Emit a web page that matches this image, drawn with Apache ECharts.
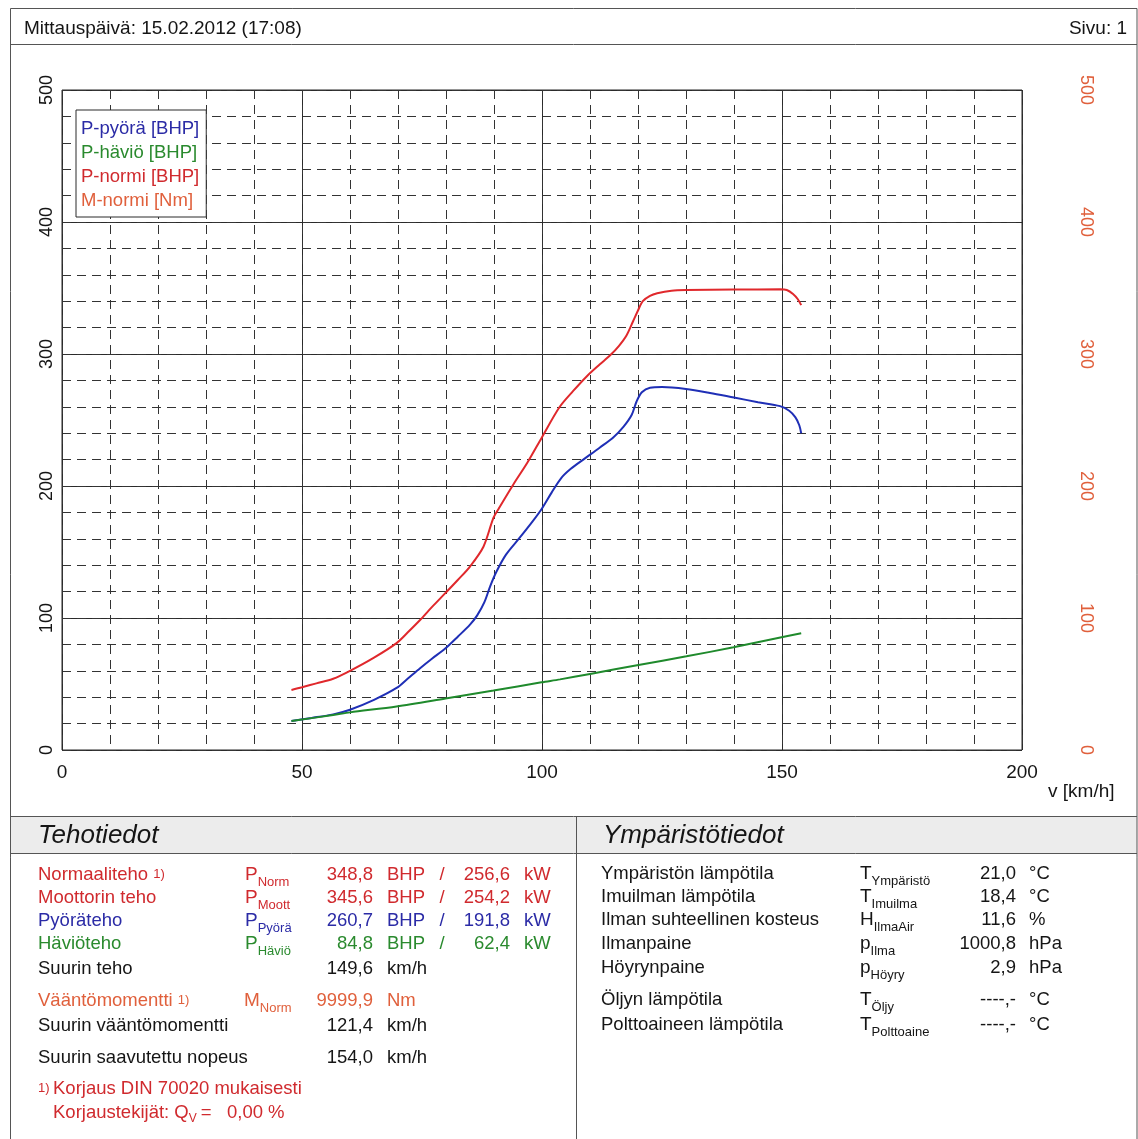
<!DOCTYPE html>
<html><head><meta charset="utf-8">
<script src="https://cdn.jsdelivr.net/npm/echarts@6/dist/echarts.min.js"></script>
<style>html,body{margin:0;padding:0;background:#fff}#c{width:1138px;height:1139px}</style>
</head><body><div id="c"></div>
<script>
// ---------- chart data ----------
const seriesNames = ['P-pyörä [BHP]', 'P-häviö [BHP]', 'P-normi [BHP]', 'M-normi [Nm]'];
const xTicks = [0, 50, 100, 150, 200];
const yTicks = [0, 100, 200, 300, 400, 500];

const speedWheel = [47.8,52,56.5,60,65,69.7,72,74.6,77,79.9,82.5,85,86.5,88,89.2,90.5,92.5,95.4,98,100,102,104,106,108.6,112,114.9,117,118.7,119.7,120.8,122.5,125,130,135,140,145,149.6,151.5,152.8,153.6,154];
const powerWheel = [22,24.3,27,30.5,38,47,54,62,69,77,86,95,102,112,124,135,148,161,173,183,195,206,213,220,229,237,245,254,264,271,274.5,275,273.5,270.5,267,263.5,260.5,257,252,246,240];

const speedLoss = [47.8,56.5,60,69.7,79.9,89.9,99.9,103.75,110.3,120.1,130.1,139.9,149.9,154];
const powerLoss = [22,26.5,28.5,33,39,45,51.3,53.5,57.8,64.4,71,77.8,85.4,88.4];

const speedNorm = [47.8,50,53,56.5,60,65,69.7,72,74.6,77,79.9,82.5,85,87.8,89.9,91,94,97,100,103.7,106.5,109.3,112,114.2,116,117.6,119,120,121,122.5,124,127,130,140,149.6,151,152.3,153.3,154];
const powerNorm = [45.5,47.5,50.5,54,60,70,81,89,98.5,108,119,129,139,154,176,183,201,218,237,260,272,283,292,299,306,314,325,333,340,344,346,348,348.5,348.8,349,348.5,345.5,341.5,337];

const speedTorque = [];   // M-normi invalid (9999,9) -> no curve
const torqueNorm = [];

// ---------- report texts ----------
const headerLeft = 'Mittauspäivä: 15.02.2012 (17:08)';
const headerRight = 'Sivu: 1';
const axisName = 'v [km/h]';
const sectionTitles = ['Tehotiedot', 'Ympäristötiedot'];

const powerLabels = ['Normaaliteho', 'Moottorin teho', 'Pyöräteho', 'Häviöteho', 'Suurin teho'];
const powerNotes = ['1)', '', '', '', ''];
const powerSymbols = [['P','Norm'], ['P','Moott'], ['P','Pyörä'], ['P','Häviö'], null];
const powerBhp = ['348,8', '345,6', '260,7', '84,8', '149,6'];
const powerUnit1 = ['BHP', 'BHP', 'BHP', 'BHP', 'km/h'];
const powerKw = ['256,6', '254,2', '191,8', '62,4', ''];

const torqueLabels = ['Vääntömomentti', 'Suurin vääntömomentti', 'Suurin saavutettu nopeus'];
const torqueNotes = ['1)', '', ''];
const torqueSymbols = [['M','Norm'], null, null];
const torqueValues = ['9999,9', '121,4', '154,0'];
const torqueUnits = ['Nm', 'km/h', 'km/h'];

const footnoteLines = ['Korjaus DIN 70020 mukaisesti', 'Korjaustekijät: '];
const correctionSymbol = ['Q', 'V'];
const correctionValue = '=   0,00 %';

const envLabels = ['Ympäristön lämpötila', 'Imuilman lämpötila', 'Ilman suhteellinen kosteus', 'Ilmanpaine', 'Höyrynpaine', 'Öljyn lämpötila', 'Polttoaineen lämpötila'];
const envSymbols = [['T','Ympäristö'], ['T','Imuilma'], ['H','IlmaAir'], ['p','Ilma'], ['p','Höyry'], ['T','Öljy'], ['T','Polttoaine']];
const envValues = ['21,0', '18,4', '11,6', '1000,8', '2,9', '----,-', '----,-'];
const envUnits = ['°C', '°C', '%', 'hPa', 'hPa', '°C', '°C'];

// ---------- styling / layout ----------
const FONT = '"Liberation Sans", Arial, sans-serif';
const C = {
  black: '#151515', red: '#d02a2e', blue: '#2b2ba6', green: '#2a8a2e', orange: '#e0603c',
  lineBlue: '#1f2fb6', lineGreen: '#1f8a2c', lineRed: '#e0282c', grid: '#2a2a2a', frame: '#555'
};
const powerColors = [C.red, C.red, C.blue, C.green, C.black];
const torqueColors = [C.orange, C.black, C.black];

const mctx = document.createElement('canvas').getContext('2d');
function tw(t, size) { mctx.font = size + 'px ' + FONT; return mctx.measureText(t).width; }
function txt(x, y, s, color, size, align, italic) {
  return { type: 'text', x: x, y: y, silent: true, z: 10,
    style: { text: s, fill: color, fontSize: size, fontFamily: FONT, fontStyle: italic ? 'italic' : 'normal',
      textAlign: align || 'left', textVerticalAlign: 'middle' } };
}
function symbol(x, y, pair, color, out) {
  out.push(txt(x, y, pair[0], color, 19));
  out.push(txt(x + tw(pair[0], 19), y + 7, pair[1], color, 13));
}
function labelWithNote(x, y, label, note, color, out) {
  out.push(txt(x, y, label, color, 18.5));
  if (note) out.push(txt(x + tw(label + ' ', 18.5), y - 1, note, color, 13));
}

const G = [];
// frame
G.push({ type: 'rect', silent: true, z: 1, shape: { x: 10, y: 817, width: 1127, height: 36 }, style: { fill: '#ececec', stroke: null } });
G.push({ type: 'rect', silent: true, z: 2, shape: { x: 10.5, y: 8.5, width: 1126.5, height: 1140 }, style: { fill: null, stroke: C.frame, lineWidth: 1 } });
[[10, 44.5, 1137, 44.5], [10, 816.5, 1137, 816.5], [10, 853.5, 1137, 853.5], [576.5, 816, 576.5, 1139]].forEach(function (l) {
  G.push({ type: 'line', silent: true, z: 2, shape: { x1: l[0], y1: l[1], x2: l[2], y2: l[3] }, style: { stroke: C.frame, lineWidth: 1 } });
});
G.push(txt(24, 29, headerLeft, C.black, 19));
G.push(txt(1127, 29, headerRight, C.black, 19, 'right'));
G.push(txt(1048, 792, axisName, C.black, 19));
G.push(txt(38, 836, sectionTitles[0], C.black, 26, 'left', true));
G.push(txt(603, 836, sectionTitles[1], C.black, 26, 'left', true));

// power table
const powerY = [875, 898, 921, 944, 969];
powerLabels.forEach(function (lab, i) {
  const y = powerY[i], col = powerColors[i];
  labelWithNote(38, y, lab, powerNotes[i], col, G);
  if (powerSymbols[i]) symbol(245, y, powerSymbols[i], col, G);
  G.push(txt(373, y, powerBhp[i], col, 18.5, 'right'));
  G.push(txt(387, y, powerUnit1[i], col, 18.5));
  if (powerKw[i]) {
    G.push(txt(442, y, '/', col, 18.5, 'center'));
    G.push(txt(510, y, powerKw[i], col, 18.5, 'right'));
    G.push(txt(524, y, 'kW', col, 18.5));
  }
});
const torqueY = [1001, 1026, 1058];
torqueLabels.forEach(function (lab, i) {
  const y = torqueY[i], col = torqueColors[i];
  labelWithNote(38, y, lab, torqueNotes[i], col, G);
  if (torqueSymbols[i]) symbol(244, y, torqueSymbols[i], col, G);
  G.push(txt(373, y, torqueValues[i], col, 18.5, 'right'));
  G.push(txt(387, y, torqueUnits[i], col, 18.5));
});
G.push(txt(38, 1088, '1)', C.red, 13));
G.push(txt(53, 1089, footnoteLines[0], C.red, 18.5));
G.push(txt(53, 1113, footnoteLines[1], C.red, 18.5));
(function () {
  const x0 = 53 + tw(footnoteLines[1], 18.5);
  G.push(txt(x0, 1113, correctionSymbol[0], C.red, 18.5));
  const x1 = x0 + tw(correctionSymbol[0], 18.5);
  G.push(txt(x1, 1119, correctionSymbol[1], C.red, 12));
  G.push(txt(x1 + 12, 1113, correctionValue, C.red, 18.5));
})();

// environment table
const envY = [874, 897, 920, 944, 968, 1000, 1025];
envLabels.forEach(function (lab, i) {
  const y = envY[i];
  G.push(txt(601, y, lab, C.black, 18.5));
  symbol(860, y, envSymbols[i], C.black, G);
  G.push(txt(1016, y, envValues[i], C.black, 18.5, 'right'));
  G.push(txt(1029, y, envUnits[i], C.black, 18.5));
});

function pairs(xs, ys) { return xs.map(function (x, i) { return [x, ys[i]]; }); }

const chart = echarts.init(document.getElementById('c'), null, { renderer: 'canvas' });
const axisCommon = { type: 'value', axisTick: { show: false }, axisLine: { show: false } };
chart.setOption({
  animation: false,
  backgroundColor: '#fff',
  textStyle: { fontFamily: FONT },
  grid: { left: 62, top: 90, width: 960, height: 660, show: true, borderColor: C.grid, borderWidth: 1, backgroundColor: 'transparent', containLabel: false },
  legend: {
    orient: 'vertical', left: 76, top: 110, padding: [9, 7, 7, 0], itemGap: 5, itemWidth: 0, itemHeight: 19,
    icon: 'none', selectedMode: false, backgroundColor: '#fff', borderColor: C.grid, borderWidth: 1, z: 20,
    textStyle: { fontSize: 18.5, fontFamily: FONT },
    data: [
      { name: seriesNames[0], textStyle: { color: C.blue } },
      { name: seriesNames[1], textStyle: { color: C.green } },
      { name: seriesNames[2], textStyle: { color: C.red } },
      { name: seriesNames[3], textStyle: { color: C.orange } }
    ]
  },
  xAxis: [
    Object.assign({}, axisCommon, { min: xTicks[0], max: xTicks[xTicks.length - 1], interval: 50, position: 'bottom',
      axisLabel: { fontSize: 19, color: C.black, margin: 13, fontFamily: FONT },
      splitLine: { show: true, lineStyle: { color: C.grid, width: 1, type: 'solid' } } }),
    Object.assign({}, axisCommon, { min: 0, max: 200, interval: 10, position: 'top',
      axisLabel: { show: false },
      splitLine: { show: true, lineStyle: { color: '#333', width: 1, type: [9, 6] } } })
  ],
  yAxis: [
    Object.assign({}, axisCommon, { min: yTicks[0], max: yTicks[yTicks.length - 1], interval: 100, position: 'left',
      axisLabel: { fontSize: 18, color: C.black, rotate: 90, margin: 6, fontFamily: FONT },
      splitLine: { show: true, lineStyle: { color: C.grid, width: 1, type: 'solid' } } }),
    Object.assign({}, axisCommon, { min: 0, max: 500, interval: 100, position: 'right',
      axisLabel: { fontSize: 18, color: C.orange, rotate: -90, margin: 55, fontFamily: FONT },
      splitLine: { show: false } }),
    Object.assign({}, axisCommon, { min: 0, max: 500, interval: 20, position: 'left',
      axisLabel: { show: false },
      splitLine: { show: true, lineStyle: { color: '#333', width: 1, type: [9, 6] } } })
  ],
  series: [
    { name: seriesNames[0], type: 'line', xAxisIndex: 0, yAxisIndex: 0, showSymbol: false, smooth: 0.3,
      lineStyle: { color: C.lineBlue, width: 2 }, itemStyle: { color: C.lineBlue }, data: pairs(speedWheel, powerWheel), z: 5 },
    { name: seriesNames[1], type: 'line', xAxisIndex: 0, yAxisIndex: 0, showSymbol: false, smooth: 0.3,
      lineStyle: { color: C.lineGreen, width: 2 }, itemStyle: { color: C.lineGreen }, data: pairs(speedLoss, powerLoss), z: 6 },
    { name: seriesNames[2], type: 'line', xAxisIndex: 0, yAxisIndex: 0, showSymbol: false, smooth: 0.3,
      lineStyle: { color: C.lineRed, width: 2 }, itemStyle: { color: C.lineRed }, data: pairs(speedNorm, powerNorm), z: 5 },
    { name: seriesNames[3], type: 'line', xAxisIndex: 0, yAxisIndex: 1, showSymbol: false,
      lineStyle: { color: C.orange, width: 2 }, itemStyle: { color: C.orange }, data: pairs(speedTorque, torqueNorm) }
  ],
  graphic: { elements: G }
});
</script></body></html>
